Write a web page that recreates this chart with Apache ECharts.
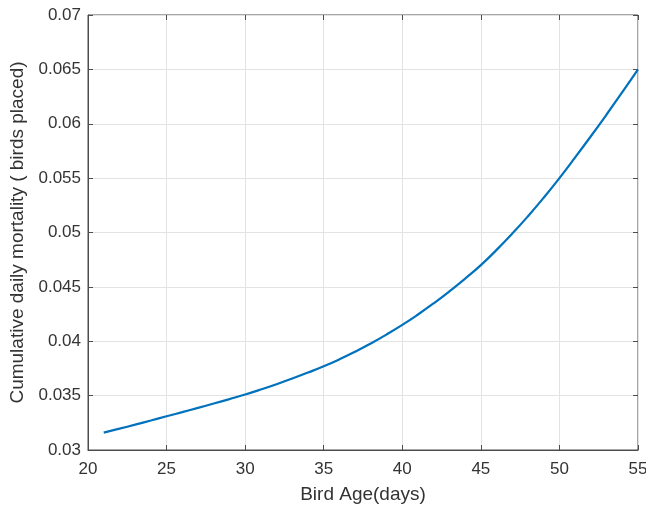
<!DOCTYPE html>
<html>
<head>
<meta charset="utf-8">
<script src="https://cdn.jsdelivr.net/npm/echarts@6/dist/echarts.min.js"></script>
<style>
  html, body { margin: 0; padding: 0; background: #fff; }
  #chart { width: 646px; height: 506px; }
</style>
</head>
<body>
<div id="chart"></div>
<script>
// bird age in days
const ages = [21, 22, 23, 24, 25, 26, 27, 28, 29, 30, 31, 32, 33, 34, 35, 36, 37, 38,
  39, 40, 41, 42, 43, 44, 45, 46, 47, 48, 49, 50, 51, 52, 53, 54, 55];
// cumulative daily mortality
const mortality = [0.0316, 0.03196, 0.03233, 0.03271, 0.0331, 0.03348, 0.03387, 0.03427,
  0.03468, 0.0351, 0.03556, 0.03605, 0.03657, 0.03712, 0.0377, 0.03834, 0.03904, 0.0398,
  0.04062, 0.0415, 0.04246, 0.04349, 0.04459, 0.04576, 0.047, 0.0484, 0.0499, 0.0515,
  0.0532, 0.055, 0.0569, 0.05885, 0.06085, 0.0629, 0.065];

const font = "'Liberation Sans', Arial, sans-serif";
const textColor = "#333";
const boxColor = "#4d4d4d";

let chart = echarts.init(document.getElementById("chart"));
let points = ages.map((a, i) => [a, mortality[i]]);

let tickStyle = {
  show: true,
  inside: true,
  length: 5,
  lineStyle: { color: boxColor, width: 1 }
};

let option = {
  animation: false,
  backgroundColor: "#fff",
  grid: {
    left: 88,
    right: 8,
    top: 15,
    bottom: 56,
    outerBoundsMode: "none",
    show: true,
    borderColor: boxColor,
    borderWidth: 1
  },
  xAxis: [
    {
      type: "value",
      min: 20,
      max: 55,
      interval: 5,
      name: "Bird Age(days)",
      nameLocation: "middle",
      nameGap: 35,
      nameTextStyle: { color: textColor, fontSize: 19, fontFamily: font },
      axisLine: { show: true, lineStyle: { color: boxColor } },
      axisTick: tickStyle,
      axisLabel: { color: textColor, fontSize: 17, fontFamily: font, margin: 11 },
      splitLine: { show: true, lineStyle: { color: "#e3e3e3" } }
    },
    {
      type: "value",
      position: "top",
      min: 20,
      max: 55,
      interval: 5,
      axisLine: { show: false },
      axisTick: tickStyle,
      axisLabel: { show: false },
      splitLine: { show: false }
    }
  ],
  yAxis: [
    {
      type: "value",
      min: 0.03,
      max: 0.07,
      interval: 0.005,
      name: "Cumulative daily mortality ( birds placed)",
      nameLocation: "middle",
      nameGap: 55,
      nameTextStyle: { color: textColor, fontSize: 19, fontFamily: font },
      axisLine: { show: true, lineStyle: { color: boxColor } },
      axisTick: tickStyle,
      axisLabel: { color: textColor, fontSize: 17, fontFamily: font, margin: 7 },
      splitLine: { show: true, lineStyle: { color: "#e3e3e3" } }
    },
    {
      type: "value",
      position: "right",
      min: 0.03,
      max: 0.07,
      interval: 0.005,
      axisLine: { show: false },
      axisTick: tickStyle,
      axisLabel: { show: false },
      splitLine: { show: false }
    }
  ],
  series: [
    {
      name: "mortality",
      type: "line",
      smooth: true,
      showSymbol: false,
      data: points,
      lineStyle: { color: "#0072bd", width: 2.2 },
      itemStyle: { color: "#0072bd" }
    }
  ]
};
chart.setOption(option);
</script>
</body>
</html>
